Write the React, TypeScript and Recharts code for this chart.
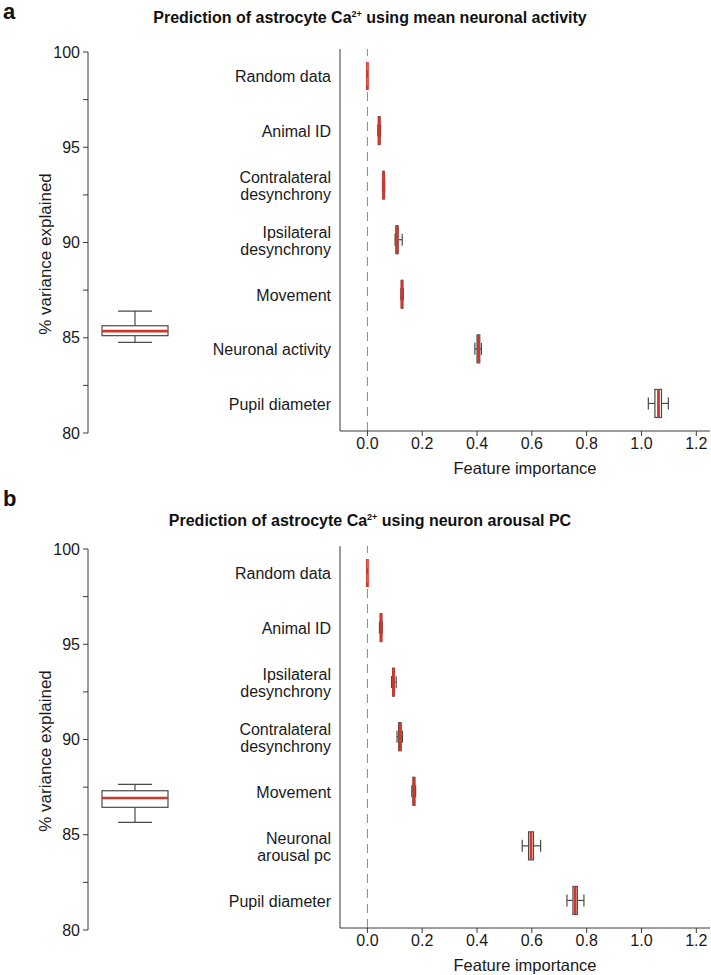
import React from 'react';
import { ComposedChart, Bar, XAxis, YAxis, ReferenceLine, Label } from 'recharts';

const FONT = '"Liberation Sans", Arial, Helvetica, sans-serif';

// ---------- Panel a data ----------
const titleA = 'using mean neuronal activity';
const categoriesA = ['Random data', 'Animal ID', 'Contralateral\ndesynchrony', 'Ipsilateral\ndesynchrony', 'Movement', 'Neuronal activity', 'Pupil diameter'];
const lowA = [0, 0.038, 0.055, 0.101, 0.122, 0.392, 1.025];
const q1A = [0, 0.040, 0.057, 0.104, 0.124, 0.400, 1.049];
const medA = [0, 0.043, 0.059, 0.108, 0.126, 0.405, 1.062];
const q3A = [0, 0.046, 0.061, 0.112, 0.129, 0.410, 1.073];
const highA = [0, 0.048, 0.063, 0.127, 0.131, 0.416, 1.098];
const varianceA = { lo: 84.76, q1: 85.11, med: 85.35, q3: 85.63, hi: 86.40 };

// ---------- Panel b data ----------
const titleB = 'using neuron arousal PC';
const categoriesB = ['Random data', 'Animal ID', 'Ipsilateral\ndesynchrony', 'Contralateral\ndesynchrony', 'Movement', 'Neuronal\narousal pc', 'Pupil diameter'];
const lowB = [0, 0.044, 0.088, 0.108, 0.162, 0.565, 0.728];
const q1B = [0, 0.047, 0.092, 0.114, 0.166, 0.588, 0.750];
const medB = [0, 0.050, 0.095, 0.119, 0.170, 0.597, 0.758];
const q3B = [0, 0.052, 0.098, 0.123, 0.173, 0.606, 0.766];
const highB = [0, 0.054, 0.105, 0.128, 0.176, 0.632, 0.790];
const varianceB = { lo: 85.65, q1: 86.44, med: 86.93, q3: 87.31, hi: 87.64 };

// ---------- Axis ticks ----------
const yTicksLeft = [80, 82.5, 85, 87.5, 90, 92.5, 95, 97.5, 100];
const xTicksRight = [0, 0.2, 0.4, 0.6, 0.8, 1.0, 1.2];

const RED = '#d2372c';
const EDGE = '#4a4a4a';
const AXIS = '#3a3a3a';
const TXT = '#1a1a1a';

const buildRows = (cats: string[], lo: number[], q1: number[], med: number[], q3: number[], hi: number[]) =>
  cats.map((name, i) => ({ name, lo: lo[i], q1: q1[i], med: med[i], q3: q3[i], hi: hi[i] }));

const HBox = (props: any) => {
  const { x, y, width, height, payload } = props;
  if (x == null || payload == null) return null;
  const { lo, q1, med, q3, hi } = payload;
  const span = hi - lo;
  const px = (v: number) => (span === 0 ? x : x + ((v - lo) / span) * width);
  const cy = y + height / 2;
  const cap = 6;
  const xb1 = px(q1);
  const xb2 = px(q3);
  return (
    <g>
      <line x1={px(lo)} x2={xb1} y1={cy} y2={cy} stroke={EDGE} strokeWidth={1.2} />
      <line x1={xb2} x2={px(hi)} y1={cy} y2={cy} stroke={EDGE} strokeWidth={1.2} />
      <line x1={px(lo)} x2={px(lo)} y1={cy - cap} y2={cy + cap} stroke={EDGE} strokeWidth={1.2} />
      <line x1={px(hi)} x2={px(hi)} y1={cy - cap} y2={cy + cap} stroke={EDGE} strokeWidth={1.2} />
      <rect x={xb1} y={y} width={Math.max(xb2 - xb1, 0)} height={height} fill="#fff" stroke={EDGE} strokeWidth={1.2} />
      <line x1={px(med)} x2={px(med)} y1={y} y2={y + height} stroke={RED} strokeWidth={2.8} />
    </g>
  );
};

const VBox = (props: any) => {
  const { x, y, width, height, payload } = props;
  if (x == null || payload == null) return null;
  const { lo, q1, med, q3, hi } = payload;
  const span = hi - lo;
  const py = (v: number) => y + ((hi - v) / span) * height;
  const cx = x + width / 2;
  const capW = 17;
  return (
    <g>
      <line x1={cx} x2={cx} y1={py(hi)} y2={py(q3)} stroke={EDGE} strokeWidth={1.2} />
      <line x1={cx} x2={cx} y1={py(q1)} y2={py(lo)} stroke={EDGE} strokeWidth={1.2} />
      <line x1={cx - capW} x2={cx + capW} y1={py(hi)} y2={py(hi)} stroke={EDGE} strokeWidth={1.2} />
      <line x1={cx - capW} x2={cx + capW} y1={py(lo)} y2={py(lo)} stroke={EDGE} strokeWidth={1.2} />
      <rect x={x} y={py(q3)} width={width} height={py(q1) - py(q3)} fill="#fff" stroke={EDGE} strokeWidth={1.2} />
      <line x1={x} x2={x + width} y1={py(med)} y2={py(med)} stroke={RED} strokeWidth={2.6} />
    </g>
  );
};

const CatTick = (props: any) => {
  const { x, y, payload } = props;
  const lines = String(payload.value).split('\n');
  const lh = 17;
  const y0 = y - ((lines.length - 1) * lh) / 2;
  return (
    <text x={x} y={y0} textAnchor="end" fontSize={16} fill={TXT} fontFamily={FONT} dominantBaseline="central">
      {lines.map((l, i) => (
        <tspan key={i} x={x} dy={i === 0 ? 0 : lh}>{l}</tspan>
      ))}
    </text>
  );
};

const Panel = ({ top, letter, letterTop, titleTop, title, rows, variance }: any) => {
  const leftData = [{ name: 'all', ...variance }];
  return (
    <div style={{ position: 'absolute', left: 0, top, width: 711, height: 490 }}>
      <svg style={{ position: 'absolute', left: 0, top: letterTop }} width={30} height={24}>
        <text x={3} y={19} fontFamily={FONT} fontWeight="bold" fontSize={22} fill="#111">{letter}</text>
      </svg>
      <div style={{ position: 'absolute', left: 0, top: titleTop, width: 740, textAlign: 'center', fontFamily: FONT, fontWeight: 'bold', fontSize: 16, lineHeight: '20px', color: '#111', whiteSpace: 'nowrap' }}>
        Prediction of astrocyte Ca<sup style={{ fontSize: 9, lineHeight: 0 }}>2+</sup> {title}
      </div>
      <div style={{ position: 'absolute', left: 0, top: 0 }}>
        <ComposedChart width={182} height={470} data={leftData} margin={{ top: 52, right: 0, left: 0, bottom: 37 }}>
          <XAxis dataKey="name" type="category" hide />
          <YAxis
            type="number"
            domain={[80, 100]}
            ticks={yTicksLeft}
            interval={0}
            width={88}
            tickSize={5}
            tickMargin={3}
            tickFormatter={(v: number) => (v % 5 === 0 ? String(v) : '')}
            tick={{ fontSize: 16, fill: TXT, fontFamily: FONT }}
            stroke={AXIS}
            axisLine={{ stroke: AXIS }}
            tickLine={{ stroke: AXIS }}
          >
            <Label
              content={() => (
                <text x={45} y={254} transform="rotate(-90, 45, 254)" textAnchor="middle" dominantBaseline="central" fontSize={17} fill={TXT} fontFamily={FONT}>
                  % variance explained
                </text>
              )}
            />
          </YAxis>
          <Bar dataKey={(d: any) => [d.lo, d.hi]} barSize={66} shape={(p: any) => <VBox {...p} />} isAnimationActive={false} />
        </ComposedChart>
      </div>
      <div style={{ position: 'absolute', left: 200, top: 0 }}>
        <ComposedChart width={511} height={480} data={rows} layout="vertical" margin={{ top: 49, right: 1, left: 0, bottom: 0 }}>
          <XAxis
            type="number"
            domain={[-0.1, 1.25]}
            ticks={xTicksRight}
            interval={0}
            allowDataOverflow
            height={49}
            tickSize={5}
            tickMargin={2}
            tickFormatter={(v: number) => v.toFixed(1)}
            tick={{ fontSize: 16, fill: TXT, fontFamily: FONT }}
            axisLine={{ stroke: AXIS }}
            tickLine={{ stroke: AXIS }}
          >
            <Label value="Feature importance" position="insideBottom" offset={6} style={{ fontSize: 16.5, fill: TXT, fontFamily: FONT }} />
          </XAxis>
          <YAxis
            type="category"
            dataKey="name"
            width={140}
            interval={0}
            tickLine={false}
            tickSize={0}
            tickMargin={9}
            axisLine={{ stroke: AXIS }}
            tick={<CatTick />}
          />
          <ReferenceLine x={0} stroke="#8a8a8a" strokeDasharray="9 6" strokeWidth={1} />
          <Bar dataKey={(d: any) => [d.lo, d.hi]} barSize={28} shape={(p: any) => <HBox {...p} />} isAnimationActive={false} />
        </ComposedChart>
      </div>
    </div>
  );
};

export default function App() {
  const rowsA = buildRows(categoriesA, lowA, q1A, medA, q3A, highA);
  const rowsB = buildRows(categoriesB, lowB, q1B, medB, q3B, highB);
  return (
    <div style={{ position: 'absolute', left: 0, top: 0, width: 711, height: 975, background: '#fff', overflow: 'hidden' }}>
      <Panel top={0} letter="a" letterTop={0} titleTop={8} title={titleA} rows={rowsA} variance={varianceA} />
      <Panel top={497} letter="b" letterTop={-10} titleTop={14} title={titleB} rows={rowsB} variance={varianceB} />
    </div>
  );
}
